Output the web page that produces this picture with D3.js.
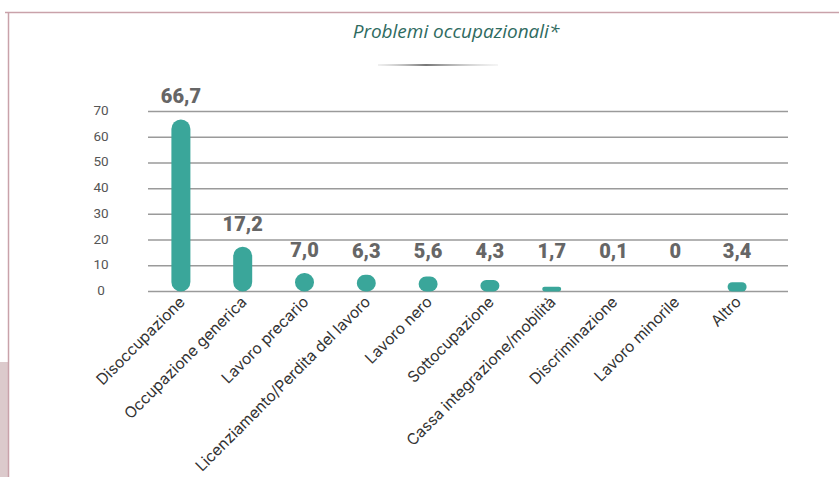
<!DOCTYPE html>
<html>
<head>
<meta charset="utf-8">
<script src="https://cdnjs.cloudflare.com/ajax/libs/d3/7.8.5/d3.min.js"></script>
<style>
  body { margin: 0; background: #fff; }
  svg { display: block; }
</style>
</head>
<body>
<div id="chart"></div>
<script>
// data
var categories = ["Disoccupazione", "Occupazione generica", "Lavoro precario",
  "Licenziamento/Perdita del lavoro", "Lavoro nero", "Sottocupazione",
  "Cassa integrazione/mobilità", "Discriminazione", "Lavoro minorile", "Altro"];
var values = [66.7, 17.2, 7.0, 6.3, 5.6, 4.3, 1.7, 0.1, 0, 3.4];
var valueLabels = ["66,7", "17,2", "7,0", "6,3", "5,6", "4,3", "1,7", "0,1", "0", "3,4"];
var yTicks = [0, 10, 20, 30, 40, 50, 60, 70];

var W = 839, H = 477;

var svg = d3.select("#chart").append("svg")
    .attr("width", W)
    .attr("height", H);

// frame
svg.append("rect")
    .attr("x", 0).attr("y", 362).attr("width", 8).attr("height", H - 362)
    .attr("fill", "#dccacc");
svg.append("path")
    .attr("d", "M5,12.5H839M8.5,12V477")
    .attr("fill", "none")
    .attr("stroke", "#c9a2aa")
    .attr("stroke-width", 1.5);

// title
svg.append("text")
    .attr("x", 456).attr("y", 38)
    .attr("text-anchor", "middle")
    .style("font-family", "'Open Sans', sans-serif")
    .style("font-style", "italic")
    .style("font-size", "19px")
    .style("fill", "#2f6b5f")
    .text("Problemi occupazionali*");

var grad = svg.append("defs").append("linearGradient").attr("id", "under");
grad.append("stop").attr("offset", "0%").attr("stop-color", "#ccc").attr("stop-opacity", 0.3);
grad.append("stop").attr("offset", "40%").attr("stop-color", "#777");
grad.append("stop").attr("offset", "100%").attr("stop-color", "#ddd").attr("stop-opacity", 0.3);
svg.append("rect")
    .attr("x", 378).attr("y", 64).attr("width", 120).attr("height", 2)
    .attr("fill", "url(#under)");

// scales
var y = d3.scaleLinear().domain([0, 70]).range([291, 111]);
var x = d3.scaleBand().domain(categories).range([150, 768]);
var barW = 19;

// gridlines
svg.append("g")
  .selectAll("line")
  .data(yTicks)
  .enter().append("line")
    .attr("x1", 148).attr("x2", 788)
    .attr("y1", function(d) { return y(d) + 0.5; })
    .attr("y2", function(d) { return y(d) + 0.5; })
    .attr("stroke", "#9a9a9a")
    .attr("stroke-width", 1.5);

// y tick labels
svg.append("g")
  .selectAll("text")
  .data(yTicks)
  .enter().append("text")
    .attr("x", 101)
    .attr("y", function(d) { return y(d) + 4; })
    .attr("text-anchor", "middle")
    .style("font-family", "Roboto, sans-serif")
    .style("font-size", "13.5px")
    .style("fill", "#555")
    .text(function(d) { return d; });

// bars (rounded pills)
function pill(cx, top, bottom) {
  var h = bottom - top;
  if (h <= 1) return "";
  var r = Math.min(barW / 2, h / 2);
  var x0 = cx - barW / 2, x1 = cx + barW / 2;
  return "M" + (x0 + r) + "," + top +
    "H" + (x1 - r) + "A" + r + "," + r + " 0 0 1 " + x1 + "," + (top + r) +
    "V" + (bottom - r) + "A" + r + "," + r + " 0 0 1 " + (x1 - r) + "," + bottom +
    "H" + (x0 + r) + "A" + r + "," + r + " 0 0 1 " + x0 + "," + (bottom - r) +
    "V" + (top + r) + "A" + r + "," + r + " 0 0 1 " + (x0 + r) + "," + top + "Z";
}

svg.append("g")
  .selectAll("path")
  .data(values)
  .enter().append("path")
    .attr("fill", "#3aa69a")
    .attr("d", function(d, i) {
      var cx = x(categories[i]) + x.bandwidth() / 2;
      return pill(cx, y(d), y(0) + 0.5);
    });

// value labels
svg.append("g")
  .selectAll("text")
  .data(values)
  .enter().append("text")
    .attr("x", function(d, i) { return x(categories[i]) + x.bandwidth() / 2; })
    .attr("y", function(d) { return Math.min(y(d) - 16, y(12.7)); })
    .attr("text-anchor", "middle")
    .style("font-family", "Roboto, sans-serif")
    .style("font-weight", "900")
    .style("font-size", "20px")
    .style("fill", "#666")
    .text(function(d, i) { return valueLabels[i]; });

// category labels
svg.append("g")
  .selectAll("text")
  .data(categories)
  .enter().append("text")
    .attr("transform", function(d) {
      var cx = x(d) + x.bandwidth() / 2 + 5;
      return "translate(" + cx + ",303) rotate(-45)";
    })
    .attr("text-anchor", "end")
    .style("font-family", "Inter, sans-serif")
    .style("font-size", "15.5px")
    .style("fill", "#333")
    .text(function(d) { return d; });
</script>
</body>
</html>
